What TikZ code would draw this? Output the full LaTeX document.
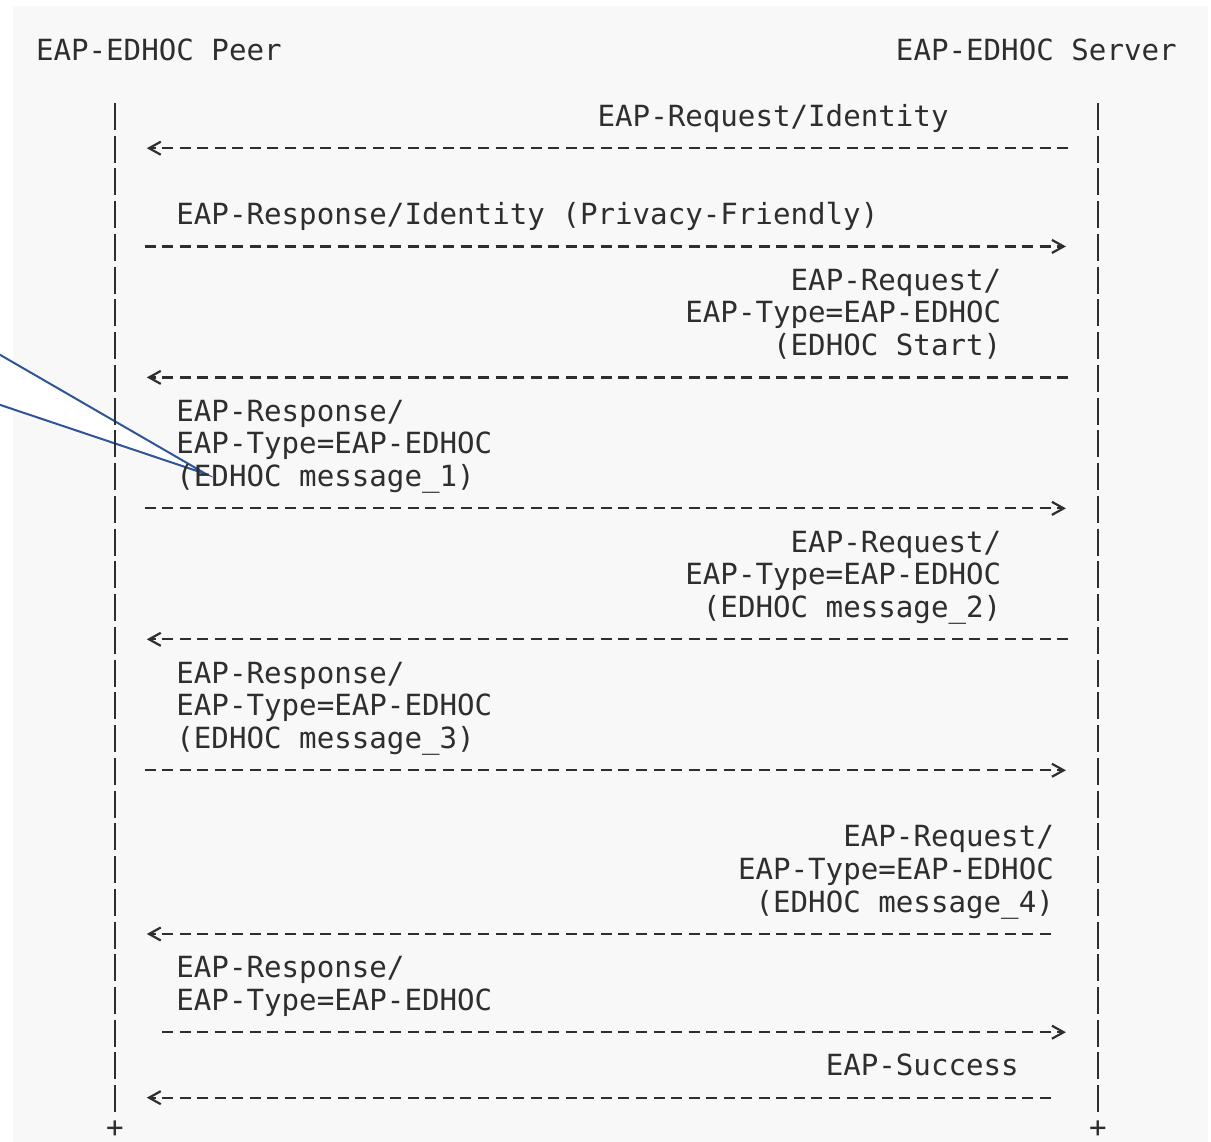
\documentclass[tikz,border=0pt]{standalone}
\usepackage{fontspec}
\newfontfamily\monofnt{DejaVu Sans Mono}
\usetikzlibrary{arrows.meta}
\definecolor{bggrey}{HTML}{F8F8F8}
\definecolor{txtc}{HTML}{2E2E2E}
\definecolor{callblue}{HTML}{2F5597}
\newcommand\cx[1]{36+17.55*(#1)}
\newcommand\ry[1]{61+32.74*(#1)}
\newcommand\dy[1]{50+32.74*(#1)}
\tikzset{
  lbl/.style={anchor=base west, inner sep=0pt, outer sep=0pt, text=txtc,
    font=\monofnt\fontsize{29.15pt}{32.74pt}\selectfont},
  msg/.style={draw=txtc, line width=2.2pt, dash pattern=on 11pt off 6.55pt,
    -{Straight Barb[length=11.7pt,width=13pt,sep=2.5pt]}},
  lifeline/.style={draw=txtc, line width=2.2pt, dash pattern=on 27pt off 5.74pt},
  callout/.style={draw=callblue, fill=white, line width=2pt, line join=miter}
}
\newcommand\lab[4]{\node[lbl] (#1) at ({\cx{#2}},{\ry{#3}}) {#4};}
\begin{document}
\begin{tikzpicture}[x=1pt,y=-1pt]
\useasboundingbox (0,0) rectangle (1211,1142);
\fill[bggrey] (13,6) rectangle (1208,1142);
% callout tail
\coordinate (ctipA) at (-10,349);
\coordinate (ctipB) at (-10,401.5);
\coordinate (ctip) at (206,474);
\path[callout] (ctipA) -- (ctip) -- (ctipB);
% headers
\lab{peer}{0}{0}{EAP-EDHOC Peer}
\lab{server}{49}{0}{EAP-EDHOC Server}
% lifelines
\coordinate (ptop) at ({\cx{4.5}},103);
\coordinate (pbot) at ({\cx{4.5}},1116);
\coordinate (stop) at ({\cx{60.5}},103);
\coordinate (sbot) at ({\cx{60.5}},1116);
\draw[lifeline] (ptop) -- (pbot);
\draw[lifeline] (stop) -- (sbot);
\node[lbl, anchor=center] (pplus) at ({\cx{4.5}},1129) {+};
\node[lbl, anchor=center] (splus) at ({\cx{60.5}},1129) {+};
% labels
\lab{l2}{32}{2}{EAP-Request/Identity}
\lab{l5}{8}{5}{EAP-Response/Identity (Privacy-Friendly)}
\lab{l7}{43}{7}{EAP-Request/}
\lab{l8}{37}{8}{EAP-Type=EAP-EDHOC}
\lab{l9}{42}{9}{(EDHOC Start)}
\lab{l11}{8}{11}{EAP-Response/}
\lab{l12}{8}{12}{EAP-Type=EAP-EDHOC}
\lab{l13}{8}{13}{(EDHOC message\_1)}
\lab{l15}{43}{15}{EAP-Request/}
\lab{l16}{37}{16}{EAP-Type=EAP-EDHOC}
\lab{l17}{38}{17}{(EDHOC message\_2)}
\lab{l19}{8}{19}{EAP-Response/}
\lab{l20}{8}{20}{EAP-Type=EAP-EDHOC}
\lab{l21}{8}{21}{(EDHOC message\_3)}
\lab{l24}{46}{24}{EAP-Request/}
\lab{l25}{40}{25}{EAP-Type=EAP-EDHOC}
\lab{l26}{41}{26}{(EDHOC message\_4)}
\lab{l28}{8}{28}{EAP-Response/}
\lab{l29}{8}{29}{EAP-Type=EAP-EDHOC}
\lab{l31}{45}{31}{EAP-Success}
% message endpoints
\foreach \r/\tl in {3/59,10/59,18/59,27/58,32/58}{
  \coordinate (tail\r) at ({\cx{\tl}-3.3},{\dy{\r}});
  \coordinate (tip\r) at ({\cx{6}+3},{\dy{\r}});
}
\foreach \r/\sc in {6/6,14/6,22/6,30/7}{
  \coordinate (tail\r) at ({\cx{\sc}+3.3},{\dy{\r}});
  \coordinate (tip\r) at ({\cx{58}+14.5},{\dy{\r}});
}
\foreach \r in {3,6,10,14,18,22,27,30,32}{
  \draw[msg] (tail\r) -- (tip\r);
}
\end{tikzpicture}
\end{document}
